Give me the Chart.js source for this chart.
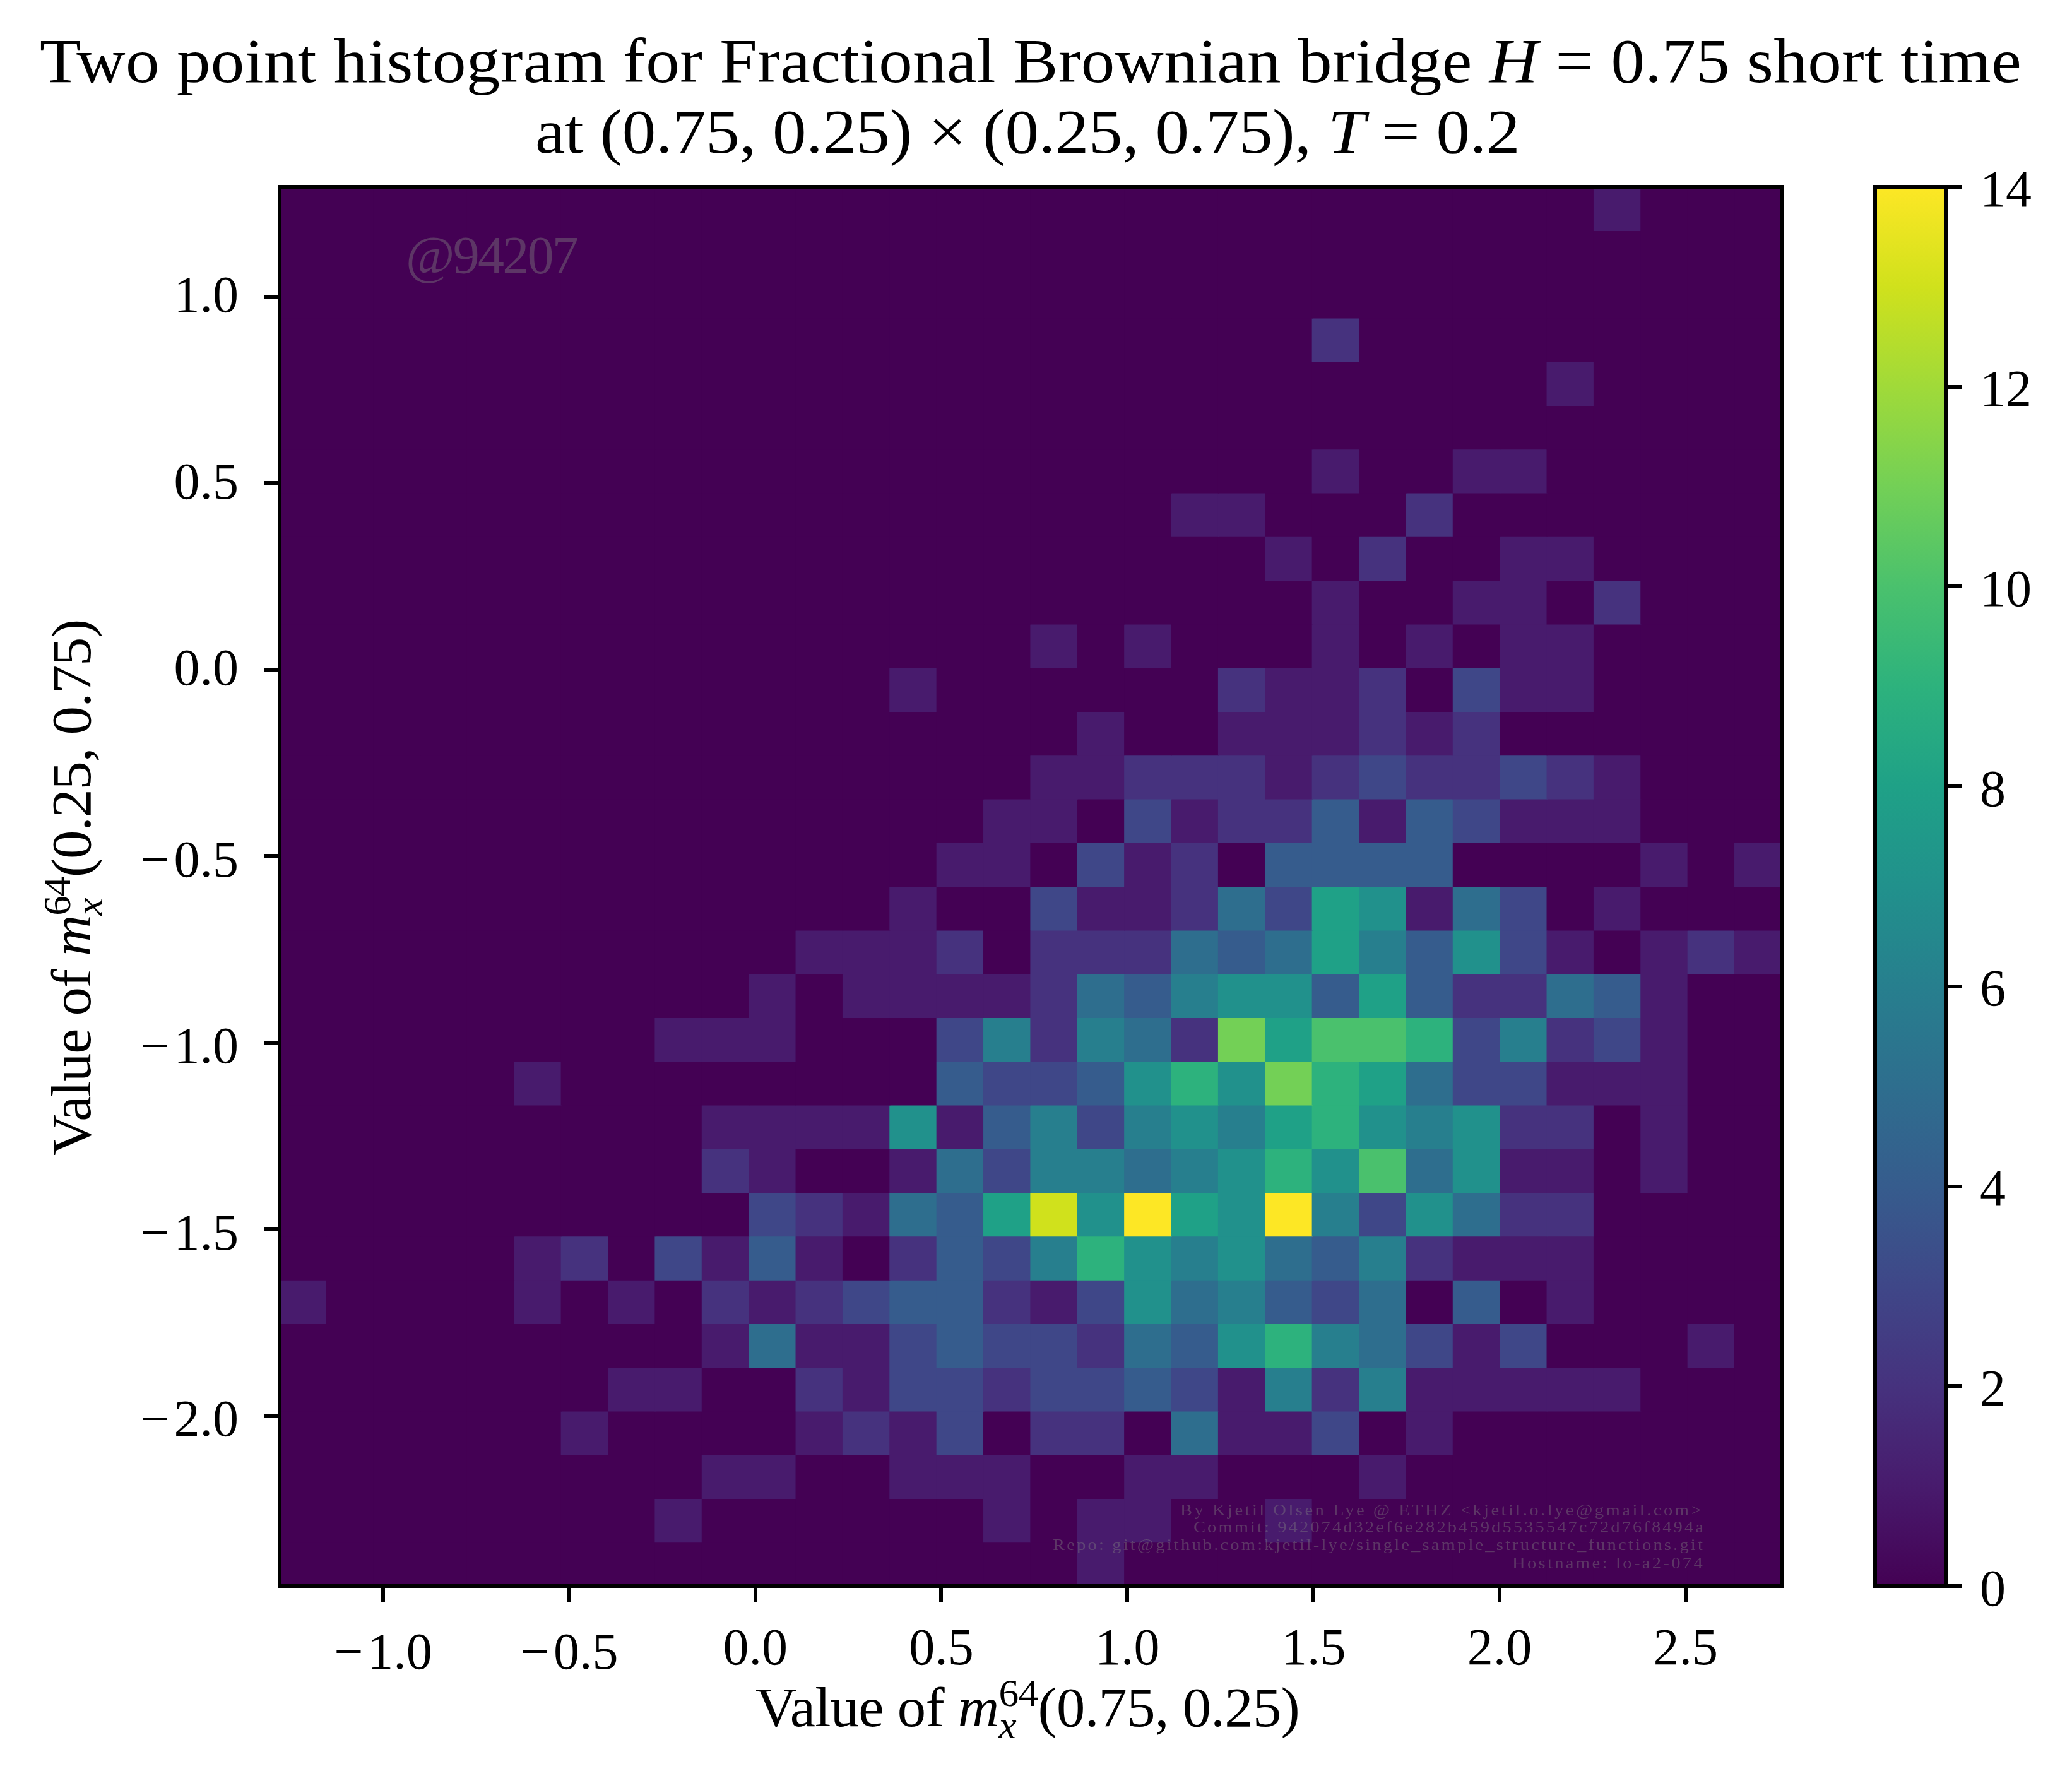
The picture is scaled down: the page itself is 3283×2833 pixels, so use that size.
<!DOCTYPE html>
<html>
<head>
<meta charset="utf-8">
<title>Two point histogram for Fractional Brownian bridge</title>
<script src="https://cdn.jsdelivr.net/npm/chart.js@4/dist/chart.umd.min.js"></script>
<style>
html,body{margin:0;padding:0;background:#fff;}
#wrap{position:relative;width:3283px;height:2833px;overflow:hidden;}
canvas{position:absolute;top:0;display:block;}
#main{left:0;}
#bar{left:2900px;}
</style>
</head>
<body>
<div id="wrap">
<canvas id="main" width="3283" height="2833"></canvas>
<canvas id="bar" width="383" height="2833"></canvas>
</div>
<script>
// Histogram range
const xRange = [-1.278, 2.758];
const yRange = [-2.457, 1.294];
const xTickValues = [-1.0, -0.5, 0.0, 0.5, 1.0, 1.5, 2.0, 2.5];
const yTickValues = [-2.0, -1.5, -1.0, -0.5, 0.0, 0.5, 1.0];
const colorbarRange = [0, 14];
const colorbarTicks = [0, 2, 4, 6, 8, 10, 12, 14];

// Counts per bin, top row first, left column first
const row00 = [0,0,0,0,0,0,0,0, 0,0,0,0,0,0,0,0, 0,0,0,0,0,0,0,0, 0,0,0,0,1,0,0,0];
const row01 = [0,0,0,0,0,0,0,0, 0,0,0,0,0,0,0,0, 0,0,0,0,0,0,0,0, 0,0,0,0,0,0,0,0];
const row02 = [0,0,0,0,0,0,0,0, 0,0,0,0,0,0,0,0, 0,0,0,0,0,0,0,0, 0,0,0,0,0,0,0,0];
const row03 = [0,0,0,0,0,0,0,0, 0,0,0,0,0,0,0,0, 0,0,0,0,0,0,2,0, 0,0,0,0,0,0,0,0];
const row04 = [0,0,0,0,0,0,0,0, 0,0,0,0,0,0,0,0, 0,0,0,0,0,0,0,0, 0,0,0,1,0,0,0,0];
const row05 = [0,0,0,0,0,0,0,0, 0,0,0,0,0,0,0,0, 0,0,0,0,0,0,0,0, 0,0,0,0,0,0,0,0];
const row06 = [0,0,0,0,0,0,0,0, 0,0,0,0,0,0,0,0, 0,0,0,0,0,0,1,0, 0,1,1,0,0,0,0,0];
const row07 = [0,0,0,0,0,0,0,0, 0,0,0,0,0,0,0,0, 0,0,0,1,1,0,0,0, 2,0,0,0,0,0,0,0];
const row08 = [0,0,0,0,0,0,0,0, 0,0,0,0,0,0,0,0, 0,0,0,0,0,1,0,2, 0,0,1,1,0,0,0,0];
const row09 = [0,0,0,0,0,0,0,0, 0,0,0,0,0,0,0,0, 0,0,0,0,0,0,1,0, 0,1,1,0,2,0,0,0];
const row10 = [0,0,0,0,0,0,0,0, 0,0,0,0,0,0,0,0, 1,0,1,0,0,0,1,0, 1,0,1,1,0,0,0,0];
const row11 = [0,0,0,0,0,0,0,0, 0,0,0,0,0,1,0,0, 0,0,0,0,2,1,1,2, 0,3,1,1,0,0,0,0];
const row12 = [0,0,0,0,0,0,0,0, 0,0,0,0,0,0,0,0, 0,1,0,0,1,1,1,2, 1,2,0,0,0,0,0,0];
const row13 = [0,0,0,0,0,0,0,0, 0,0,0,0,0,0,0,0, 1,1,2,2,2,1,2,3, 2,2,3,2,1,0,0,0];
const row14 = [0,0,0,0,0,0,0,0, 0,0,0,0,0,0,0,1, 1,0,3,1,2,2,4,1, 4,3,1,1,1,0,0,0];
const row15 = [0,0,0,0,0,0,0,0, 0,0,0,0,0,0,1,1, 0,3,1,2,0,4,4,4, 4,0,0,0,0,1,0,1];
const row16 = [0,0,0,0,0,0,0,0, 0,0,0,0,0,1,0,0, 3,1,1,2,5,3,8,7, 1,5,3,0,1,0,0,0];
const row17 = [0,0,0,0,0,0,0,0, 0,0,0,1,1,1,2,0, 2,2,2,5,4,5,8,6, 4,7,3,1,0,1,2,1];
const row18 = [0,0,0,0,0,0,0,0, 0,0,1,0,1,1,1,1, 2,5,4,6,7,7,4,8, 4,2,2,5,4,1,0,0];
const row19 = [0,0,0,0,0,0,0,0, 1,1,1,0,0,0,3,6, 2,6,5,2,11,8,10,10, 9,3,6,2,3,1,0,0];
const row20 = [0,0,0,0,0,1,0,0, 0,0,0,0,0,0,4,3, 3,4,7,9,7,11,9,8, 5,3,3,1,1,1,0,0];
const row21 = [0,0,0,0,0,0,0,0, 0,1,1,1,1,7,1,4, 6,3,6,7,6,8,9,7, 6,7,2,2,0,1,0,0];
const row22 = [0,0,0,0,0,0,0,0, 0,2,1,0,0,1,5,3, 6,6,5,6,7,9,7,10, 5,7,1,1,0,1,0,0];
const row23 = [0,0,0,0,0,0,0,0, 0,0,3,2,1,5,4,8, 13,7,14,8,7,14,6,3, 7,5,2,2,0,0,0,0];
const row24 = [0,0,0,0,0,1,2,0, 3,1,4,1,0,2,4,3, 6,9,7,6,7,5,4,6, 2,1,1,1,0,0,0,0];
const row25 = [1,0,0,0,0,1,0,1, 0,2,1,2,3,4,4,2, 1,3,7,5,6,4,3,5, 0,4,0,1,0,0,0,0];
const row26 = [0,0,0,0,0,0,0,0, 0,1,5,1,1,3,4,3, 3,2,5,4,7,9,6,5, 3,1,3,0,0,0,1,0];
const row27 = [0,0,0,0,0,0,0,1, 1,0,0,2,1,3,3,2, 3,3,4,3,1,6,2,6, 1,1,1,1,1,0,0,0];
const row28 = [0,0,0,0,0,0,1,0, 0,0,0,1,2,1,3,0, 2,2,0,5,1,1,3,0, 1,0,0,0,0,0,0,0];
const row29 = [0,0,0,0,0,0,0,0, 0,1,1,0,0,1,1,1, 0,0,1,1,0,0,0,1, 0,0,0,0,0,0,0,0];
const row30 = [0,0,0,0,0,0,0,0, 1,0,0,0,0,0,0,1, 0,1,1,0,0,1,0,0, 0,0,0,0,0,0,0,0];
const row31 = [0,0,0,0,0,0,0,0, 0,0,0,0,0,0,0,0, 0,1,0,0,0,0,0,0, 0,0,0,0,0,0,0,0];

const rows = [row00,row01,row02,row03,row04,row05,row06,row07,row08,row09,row10,row11,row12,row13,row14,row15,
              row16,row17,row18,row19,row20,row21,row22,row23,row24,row25,row26,row27,row28,row29,row30,row31];

// Viridis colour for the counts 0..14
const viridis = ['#440154','#481b6d','#46327e','#3f4788','#365c8d','#2e6e8e','#277f8e','#21918c',
                 '#1fa187','#2db27d','#4ac16d','#73d056','#a0da39','#d0e11c','#fde725'];

// Texts
const titleLine1 = [{t:'Two point histogram for Fractional Brownian bridge '},{t:'H',i:1},{t:' = 0.75 short time'}];
const titleLine2 = [{t:'at (0.75, 0.25) \u00d7 (0.25, 0.75), '},{t:'T',i:1},{t:' = 0.2'}];
const xLabel = [{t:'Value of '},{t:'m',i:1},{t:'x',i:1,sub:1,skip:1},{t:'64',sup:1},{t:'(0.75, 0.25)'}];
const yLabel = [{t:'Value of '},{t:'m',i:1},{t:'x',i:1,sub:1,skip:1},{t:'64',sup:1},{t:'(0.25, 0.75)'}];
const stamp = [{t:'@94207'}];
const credit1 = [{t:'By Kjetil Olsen Lye @ ETHZ <kjetil.o.lye@gmail.com>'}];
const credit2 = [{t:'Commit: 942074d32ef6e282b459d5535547c72d76f8494a'}];
const credit3 = [{t:'Repo: git@github.com:kjetil-lye/single_sample_structure_functions.git'}];
const credit4 = [{t:'Hostname: lo-a2-074'}];

const FONT = '"Liberation Serif", serif';
const BLACK = '#000';
const WATERMARK = 'rgba(128,128,128,0.42)';

function drawRich(ctx, runs, o) {
  const sx = o.sx || 1;
  const fontOf = r => (r.i ? 'italic ' : '') + ((r.sup || r.sub) ? o.size * 0.7 : o.size) + 'px ' + FONT;
  ctx.save();
  ctx.fillStyle = o.color || BLACK;
  ctx.textBaseline = 'alphabetic';
  ctx.textAlign = 'left';
  ctx.translate(o.x, o.y);
  if (o.rot) ctx.rotate(o.rot);
  ctx.scale(sx, 1);
  ctx.letterSpacing = '0px';
  let natural = 0, n = 0;
  for (const r of runs) {
    ctx.font = fontOf(r);
    if (!r.skip) { natural += ctx.measureText(r.t).width; n += r.t.length; }
  }
  const ls = (o.w / sx - natural) / n;
  let px = 0;
  for (const r of runs) {
    ctx.font = fontOf(r);
    ctx.letterSpacing = ls + 'px';
    const dy = r.sup ? -o.size * 0.36 : r.sub ? o.size * 0.22 : 0;
    ctx.fillText(r.t, px, dy);
    if (!r.skip) px += ctx.measureText(r.t).width;
  }
  ctx.restore();
}

const frame = {
  id: 'frame',
  afterDatasetsDraw(chart) {
    const a = chart.chartArea, c = chart.ctx;
    c.save();
    c.strokeStyle = BLACK;
    c.lineWidth = 6;
    c.strokeRect(a.left, a.top, a.right - a.left, a.bottom - a.top);
    c.restore();
  }
};

const annotate = {
  id: 'annotate',
  afterDatasetsDraw(chart) {
    const c = chart.ctx;
    drawRich(c, stamp, {x:643, y:433, w:271, size:84, color:WATERMARK});
    drawRich(c, credit1, {x:1870, y:2401, w:829, size:26, sx:1.1, color:WATERMARK});
    drawRich(c, credit2, {x:1891, y:2428, w:811, size:26, sx:1.1, color:WATERMARK});
    drawRich(c, credit3, {x:1668, y:2456, w:1033, size:26, sx:1.1, color:WATERMARK});
    drawRich(c, credit4, {x:2396, y:2485, w:305, size:26, sx:1.1, color:WATERMARK});
  },
  afterDraw(chart) {
    const c = chart.ctx;
    drawRich(c, titleLine1, {x:63, y:130, w:3140, size:100, sx:1.07});
    drawRich(c, titleLine2, {x:848, y:242, w:1560, size:100, sx:1.07});
    drawRich(c, xLabel, {x:1197, y:2735, w:862, size:88, sx:1.03});
    drawRich(c, yLabel, {x:143, y:1831, w:849, size:88, sx:1.03, rot:-Math.PI/2});
  }
};

const fmt = v => (v < 0 ? '\u2212\u200a' : '') + Math.abs(v).toFixed(1);
const nCols = rows[0].length, nRows = rows.length;
const dx = (xRange[1] - xRange[0]) / nCols, dy = (yRange[1] - yRange[0]) / nRows;

const datasets = rows.map((row, r) => ({
  label: 'row ' + r,
  data: row.map((v, c) => ({
    x: xRange[0] + (c + 0.5) * dx,
    y: [yRange[1] - (r + 1) * dy, yRange[1] - r * dy],
    count: v
  })),
  backgroundColor: row.map(v => viridis[v]),
  borderWidth: 0,
  inflateAmount: 0.6,
  grouped: false,
  barPercentage: 1,
  categoryPercentage: 1
}));

const axisGrid = {display:true, drawOnChartArea:false, drawTicks:true, tickLength:25, tickWidth:6, tickColor:BLACK, lineWidth:6, color:BLACK, offset:false};

new Chart(document.getElementById('main'), {
  type: 'bar',
  data: {datasets},
  plugins: [frame, annotate],
  options: {
    responsive: false,
    animation: false,
    devicePixelRatio: 1,
    layout: {padding: {left:0, top:296, right:460, bottom:0}},
    plugins: {legend:{display:false}, title:{display:false}, tooltip:{enabled:false}},
    scales: {
      x: {
        type: 'linear', offset: false, min: xRange[0], max: xRange[1],
        grid: axisGrid, border: {display:false},
        afterBuildTicks: s => { s.ticks = xTickValues.map(value => ({value})); },
        afterFit: s => { s.height = 320; },
        // negative labels sit a little lower, as in the reference
        ticks: {autoSkip:false, maxRotation:0, minRotation:0, padding:28, color:BLACK,
                font: ctx => ({family:FONT, size:82, lineHeight: ctx.tick && ctx.tick.value < 0 ? '112px' : '98px'}),
                callback: fmt}
      },
      y: {
        type: 'linear', min: yRange[0], max: yRange[1],
        grid: axisGrid, border: {display:false},
        afterBuildTicks: s => { s.ticks = yTickValues.map(value => ({value})); },
        afterFit: s => { s.width = 443; },
        ticks: {autoSkip:false, padding:40, color:BLACK,
                font: ctx => ({family:FONT, size:82, lineHeight: ctx.tick && ctx.tick.value < 0 ? '22px' : '6px'}),
                callback: v => ['', fmt(v)]}
      }
    }
  }
});

function barGradient(ctx) {
  const chart = ctx.chart, area = chart.chartArea;
  if (!area) return viridis[0];
  const g = chart.ctx.createLinearGradient(0, area.bottom, 0, area.top);
  viridis.forEach((col, i) => g.addColorStop(i / (viridis.length - 1), col));
  return g;
}

new Chart(document.getElementById('bar'), {
  type: 'bar',
  data: {labels:['count'], datasets:[{data:[colorbarRange], backgroundColor:barGradient, borderWidth:0,
         barPercentage:1, categoryPercentage:1}]},
  plugins: [frame],
  options: {
    responsive: false,
    animation: false,
    devicePixelRatio: 1,
    layout: {padding: {left:71, top:296, right:0, bottom:320}},
    plugins: {legend:{display:false}, title:{display:false}, tooltip:{enabled:false}},
    scales: {
      x: {display:false},
      y: {
        type:'linear', position:'right', min:colorbarRange[0], max:colorbarRange[1],
        grid: axisGrid, border:{display:false},
        afterBuildTicks: s => { s.ticks = colorbarTicks.map(value => ({value})); },
        afterFit: s => { s.width = 200; },
        ticks: {autoSkip:false, padding:29, color:BLACK, font:{family:FONT, size:82, lineHeight:'18px'},
                callback: v => ['', String(v)]}
      }
    }
  }
});
</script>
</body>
</html>
